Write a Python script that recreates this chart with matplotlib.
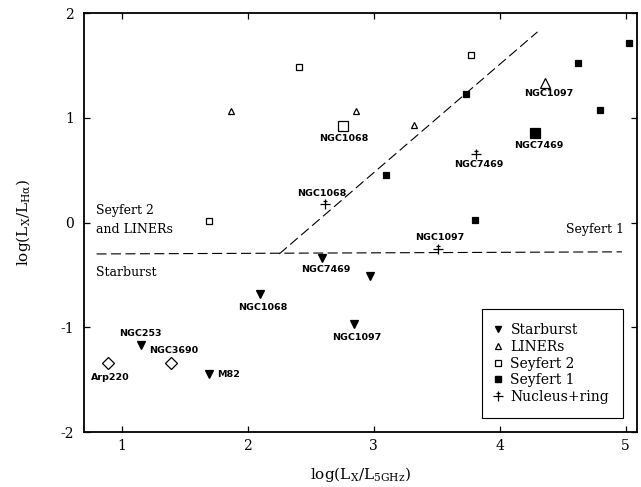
import matplotlib

matplotlib.use("Agg")
import matplotlib.pyplot as plt
from matplotlib.lines import Line2D
from matplotlib.path import Path


# values
SB_X = [1.15, 1.69, 2.10, 2.59, 2.84, 2.97]
SB_Y = [-1.17, -1.45, -0.68, -0.34, -0.97, -0.51]
SB_NAMES = ["NGC253", "M82", "NGC1068", "NGC7469", "NGC1097", ""]

LINER_X = [1.87, 2.86, 3.32, 4.36]
LINER_Y = [1.06, 1.06, 0.93, 1.33]
LINER_NAMES = ["", "", "", "NGC1097"]

SEY2_X = [1.69, 2.41, 2.76, 3.77]
SEY2_Y = [0.01, 1.48, 0.92, 1.60]
SEY2_NAMES = ["", "", "NGC1068", ""]

SEY1_X = [3.10, 3.73, 3.80, 4.28, 4.62, 4.80, 5.03]
SEY1_Y = [0.45, 1.23, 0.02, 0.85, 1.52, 1.07, 1.71]
SEY1_NAMES = ["", "", "", "NGC7469", "", "", ""]

NR_X = [2.61, 3.51, 3.81]
NR_Y = [0.18, -0.25, 0.65]
NR_NAMES = ["NGC1068", "NGC1097", "NGC7469"]

ULIRG_X = [0.89, 1.39]
ULIRG_Y = [-1.34, -1.34]
ULIRG_NAMES = ["Arp220", "NGC3690"]

SPLIT_X = [0.80, 4.97]
SPLIT_Y = [-0.30, -0.28]
DIAG_X = [2.25, 4.30]
DIAG_Y = [-0.30, 1.82]

X_TICKS = [1, 2, 3, 4, 5]
Y_TICKS = [-2, -1, 0, 1, 2]

# label offsets in points (dx, dy, ha)
OFFSETS = {
    ("sb", "NGC253"): (0, 8, "center"),
    ("sb", "M82"): (6.3, 0, "left"),
    ("sb", "NGC1068"): (2, -9.6, "center"),
    ("sb", "NGC7469"): (2.5, -8.4, "center"),
    ("sb", "NGC1097"): (2.5, -9.4, "center"),
    ("liner", "NGC1097"): (2.5, -7.5, "center"),
    ("sey2", "NGC1068"): (0, -9, "center"),
    ("sey1", "NGC7469"): (2.5, -8.6, "center"),
    ("nr", "NGC1068"): (-2, 7, "center"),
    ("nr", "NGC1097"): (1, 8.3, "center"),
    ("nr", "NGC7469"): (2.5, -7.5, "center"),
    ("ulirg", "Arp220"): (2, -10.4, "center"),
    ("ulirg", "NGC3690"): (2, 9, "center"),
}

plt.rcParams["font.family"] = ["DejaVu Serif"]
plt.rcParams["mathtext.fontset"] = "dejavuserif"
plt.rcParams["axes.unicode_minus"] = False

# cross with a short bar on top
NR_MARKER = Path(
    [(0, -1), (0, 1), (-1, 0), (1, 0), (-0.45, 0.6), (0.45, 0.6)],
    [Path.MOVETO, Path.LINETO, Path.MOVETO, Path.LINETO, Path.MOVETO, Path.LINETO],
)


def draw_group(ax, key, xs, ys, names, marker, filled, size, big_size=None):
    for x, y, name in zip(xs, ys, names):
        ms = big_size if (name and big_size) else size
        if marker is NR_MARKER:
            ax.plot(x, y, marker=marker, ms=ms, color="black", mew=0.9, ls="none")
        else:
            ax.plot(
                x, y, marker=marker, ms=ms, ls="none",
                mfc="black" if filled else "white", mec="black", mew=0.9,
            )
        if name:
            dx, dy, ha = OFFSETS[(key, name)]
            ax.annotate(
                name, (x, y), xytext=(dx, dy), textcoords="offset points",
                ha=ha, va="center", fontsize=6.8, fontweight="bold",
                family="DejaVu Sans",
            )


fig = plt.figure(figsize=(6.41, 4.87), dpi=100)
ax = fig.add_axes([0.131, 0.1129, 0.8628, 0.8604])

ax.plot(SPLIT_X, SPLIT_Y, color="black", lw=0.8, dashes=(9, 4))
ax.plot(DIAG_X, DIAG_Y, color="black", lw=0.8, dashes=(9, 4))

draw_group(ax, "sb", SB_X, SB_Y, SB_NAMES, "v", True, 6)
draw_group(ax, "liner", LINER_X, LINER_Y, LINER_NAMES, "^", False, 4.5, 6.5)
draw_group(ax, "sey2", SEY2_X, SEY2_Y, SEY2_NAMES, "s", False, 4.5, 6.5)
draw_group(ax, "sey1", SEY1_X, SEY1_Y, SEY1_NAMES, "s", True, 5, 6.5)
draw_group(ax, "nr", NR_X, NR_Y, NR_NAMES, NR_MARKER, False, 7)
draw_group(ax, "ulirg", ULIRG_X, ULIRG_Y, ULIRG_NAMES, "D", False, 6.5)

ax.text(0.792, 0.11, "Seyfert 2", fontsize=9, va="center", ha="left")
ax.text(0.792, -0.066, "and LINERs", fontsize=9, va="center", ha="left")
ax.text(0.792, -0.48, "Starburst", fontsize=9, va="center", ha="left")
ax.text(4.985, -0.063, "Seyfert 1", fontsize=9, va="center", ha="right")

ax.set_xlim(0.70, 5.09)
ax.set_ylim(-2, 2)
ax.set_xticks(X_TICKS)
ax.set_yticks(Y_TICKS)
ax.tick_params(direction="in", top=True, right=True, labelsize=10, length=4, width=0.9)
ax.tick_params(axis="x", pad=5)
ax.tick_params(axis="y", pad=7)
for spine in ax.spines.values():
    spine.set_linewidth(1.3)

ax.set_xlabel(r"log(L$_{\rm X}$/L$_{\rm 5GHz}$)", fontsize=11, labelpad=9)
ax.set_ylabel(r"log(L$_{\rm X}$/L$_{\rm H\alpha}$)", fontsize=11, labelpad=20)

handles = [
    Line2D([], [], marker="v", ls="none", ms=4.5, mfc="black", mec="black"),
    Line2D([], [], marker="^", ls="none", ms=4.5, mfc="white", mec="black", mew=0.9),
    Line2D([], [], marker="s", ls="none", ms=4.5, mfc="white", mec="black", mew=0.9),
    Line2D([], [], marker="s", ls="none", ms=4.5, mfc="black", mec="black"),
    Line2D([], [], marker=NR_MARKER, ls="none", ms=7, color="black", mew=0.9),
]
labels = ["Starburst", "LINERs", "Seyfert 2", "Seyfert 1", "Nucleus+ring"]
leg = ax.legend(
    handles, labels, loc="lower right", bbox_to_anchor=(0.9747, 0.0334),
    borderaxespad=0, fontsize=10, labelspacing=0.2, handlelength=0.25,
    handletextpad=0.8, borderpad=1.0, fancybox=False, framealpha=1,
    edgecolor="black",
)
leg.get_frame().set_linewidth(0.8)

fig.savefig("out.png", dpi=100)
plt.close(fig)
